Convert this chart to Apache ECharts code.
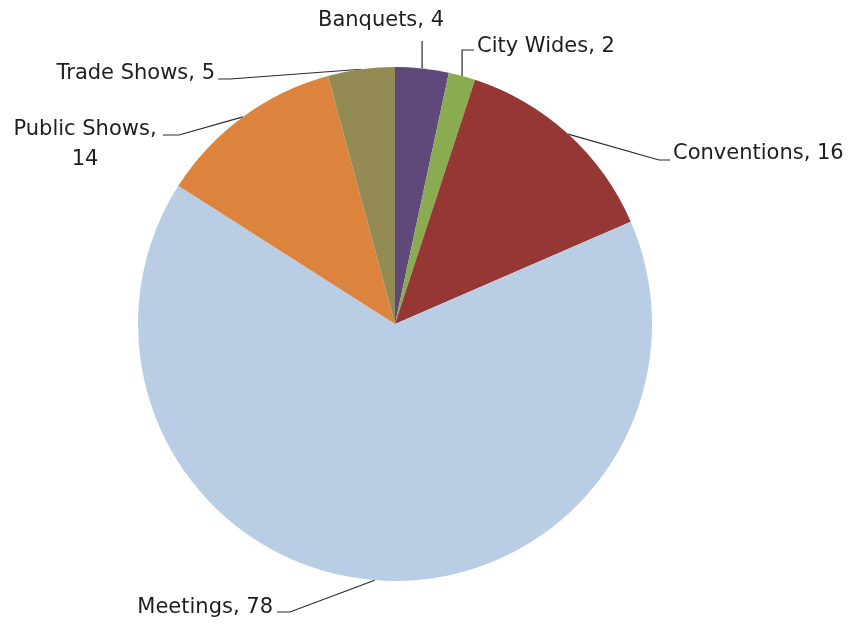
<!DOCTYPE html>
<html>
<head>
<meta charset="utf-8">
<script src="https://cdn.jsdelivr.net/npm/echarts@6/dist/echarts.min.js"></script>
<style>
html,body{margin:0;padding:0;background:#fff;}
#chart{width:855px;height:625px;}
</style>
</head>
<body>
<div id="chart"></div>
<script>
// Data
const categories = ['Banquets', 'City Wides', 'Conventions', 'Meetings', 'Public Shows', 'Trade Shows'];
const values = [4, 2, 16, 78, 14, 5];
const colors = ['#5F497A', '#8AAB4F', '#953735', '#B9CDE5', '#DC843E', '#948A54'];

// Label placement (Excel-style)
const labelPlace = [
  {x: 381, y: 21, align: 'center', kind: 'up'},
  {x: 477, y: 47, align: 'left', kind: 'corner', dy: 3},
  {x: 673, y: 154, align: 'left', kind: 'elbow', dy: 6, hook: 11, gap: 3},
  {x: 273, y: 608, align: 'right', kind: 'elbow', dy: 4, hook: 13, gap: 4},
  {x: 85, y: 145, align: 'center', kind: 'elbow', dy: -10, hook: 16, gap: 6, halfW: 72},
  {x: 215, y: 74, align: 'right', kind: 'elbow', dy: 5, hook: 12, gap: 3}
];

const chart = echarts.init(document.getElementById('chart'), null, {renderer: 'canvas'});

const data = categories.map((c, i) => {
  const item = {name: c, value: values[i], itemStyle: {color: colors[i]}};
  if (c === 'Public Shows') item.label = {formatter: '{b},\n{c}'};
  return item;
});

chart.setOption({
  animation: false,
  backgroundColor: '#ffffff',
  series: [{
    type: 'pie',
    center: [395, 324],
    radius: 257,
    startAngle: 90,
    clockwise: true,
    avoidLabelOverlap: false,
    data: data,
    itemStyle: {borderWidth: 0},
    emphasis: {disabled: true},
    label: {
      show: true,
      position: 'outside',
      formatter: '{b}, {c}',
      fontFamily: 'DejaVu Sans',
      fontSize: 21,
      lineHeight: 30,
      color: '#1e1e1e'
    },
    labelLine: {
      show: true,
      length: 10,
      length2: 10,
      smooth: false,
      lineStyle: {color: '#2a2a2a', width: 1.2}
    },
    labelLayout: function (params) {
      const L = labelPlace[params.dataIndex];
      const pts = params.labelLinePoints;
      const p0 = pts ? pts[0] : [0, 0];
      const h = params.labelRect.height;
      let line;
      if (L.kind === 'up') {
        const ey = L.y + h / 2 + 5;
        line = [p0, [p0[0], ey], [p0[0], ey]];
      } else if (L.kind === 'corner') {
        const ey = L.y + L.dy;
        line = [p0, [p0[0], ey], [L.x - 3, ey]];
      } else {
        let edge, dir;
        if (L.align === 'left') { edge = L.x - L.gap; dir = -1; }
        else if (L.align === 'right') { edge = L.x + L.gap; dir = 1; }
        else { edge = L.x + L.halfW + L.gap; dir = 1; }
        const ey = L.y + L.dy;
        line = [p0, [edge + dir * L.hook, ey], [edge, ey]];
      }
      return {
        x: L.x,
        y: L.y,
        align: L.align,
        verticalAlign: 'middle',
        labelLinePoints: line
      };
    }
  }]
});
</script>
</body>
</html>
